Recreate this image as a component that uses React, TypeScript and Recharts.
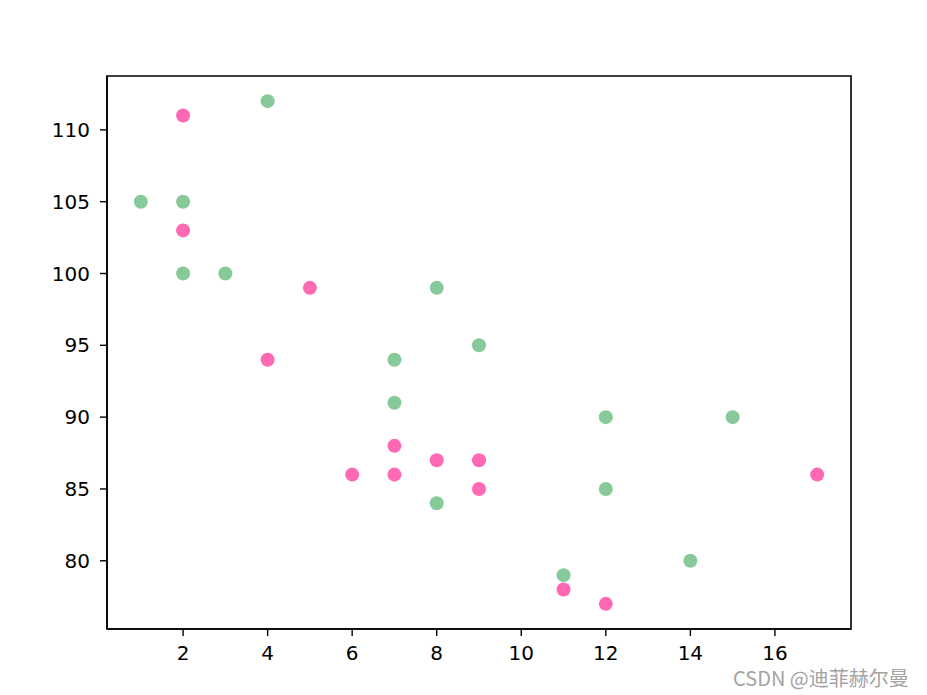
import React from "react";
import { ScatterChart, Scatter, XAxis, YAxis, ReferenceArea } from "recharts";

const pinkX = [5, 7, 8, 7, 2, 17, 2, 9, 4, 11, 12, 9, 6];
const pinkY = [99, 86, 87, 88, 111, 86, 103, 87, 94, 78, 77, 85, 86];
const greenX = [2, 2, 8, 1, 15, 8, 12, 9, 7, 3, 11, 4, 7, 14, 12];
const greenY = [100, 105, 84, 105, 90, 99, 90, 95, 94, 100, 79, 112, 91, 80, 85];
const xTicks = [2, 4, 6, 8, 10, 12, 14, 16];
const yTicks = [80, 85, 90, 95, 100, 105, 110];
const xDomain = [0.2, 17.8];
const yDomain = [75.25, 113.75];

const pinkData = pinkX.map((x, i) => ({ x, y: pinkY[i] }));
const greenData = greenX.map((x, i) => ({ x, y: greenY[i] }));

const tickStyle = { fill: "#000", fontSize: 20, fontFamily: "DejaVu Sans" };

const Dot = (props: any) => {
  const { cx, cy, fill } = props;
  return <circle cx={cx} cy={cy} r={7} fill={fill} />;
};

export default function App() {
  return (
    <div style={{ position: "fixed", left: 0, top: 0, width: 927, height: 695, background: "#fff" }}>
      <ScatterChart width={927} height={695} margin={{ top: 76, right: 76, bottom: 36, left: 47 }}>
        <XAxis
          type="number"
          dataKey="x"
          domain={xDomain}
          ticks={xTicks}
          height={30}
          axisLine={{ stroke: "#000", strokeWidth: 1.6 }}
          tickLine={{ stroke: "#000", strokeWidth: 1.4 }}
          tickSize={7}
          tickMargin={10}
          tick={tickStyle}
          allowDataOverflow
        />
        <YAxis
          type="number"
          dataKey="y"
          domain={yDomain}
          ticks={yTicks}
          width={60}
          axisLine={{ stroke: "#000", strokeWidth: 1.6 }}
          tickLine={{ stroke: "#000", strokeWidth: 1.4 }}
          tickSize={7}
          tickMargin={10}
          tick={tickStyle}
          allowDataOverflow
        />
        <ReferenceArea
          x1={xDomain[0]}
          x2={xDomain[1]}
          y1={yDomain[0]}
          y2={yDomain[1]}
          fill="none"
          fillOpacity={0}
          stroke="#000"
          strokeWidth={1.6}
          ifOverflow="visible"
        />
        <Scatter data={pinkData} fill="#ff69b4" shape={<Dot />} isAnimationActive={false} />
        <Scatter data={greenData} fill="#88c999" shape={<Dot />} isAnimationActive={false} />
      </ScatterChart>
      <svg width={927} height={695} style={{ position: "absolute", left: 0, top: 0, pointerEvents: "none" }}>
        <text
          x={733}
          y={686}
          fontSize={20}
          fill="#a3a3a3"
          fontFamily="'Noto Sans CJK SC', 'DejaVu Sans', sans-serif"
        >
          CSDN @迪菲赫尔曼
        </text>
      </svg>
    </div>
  );
}
